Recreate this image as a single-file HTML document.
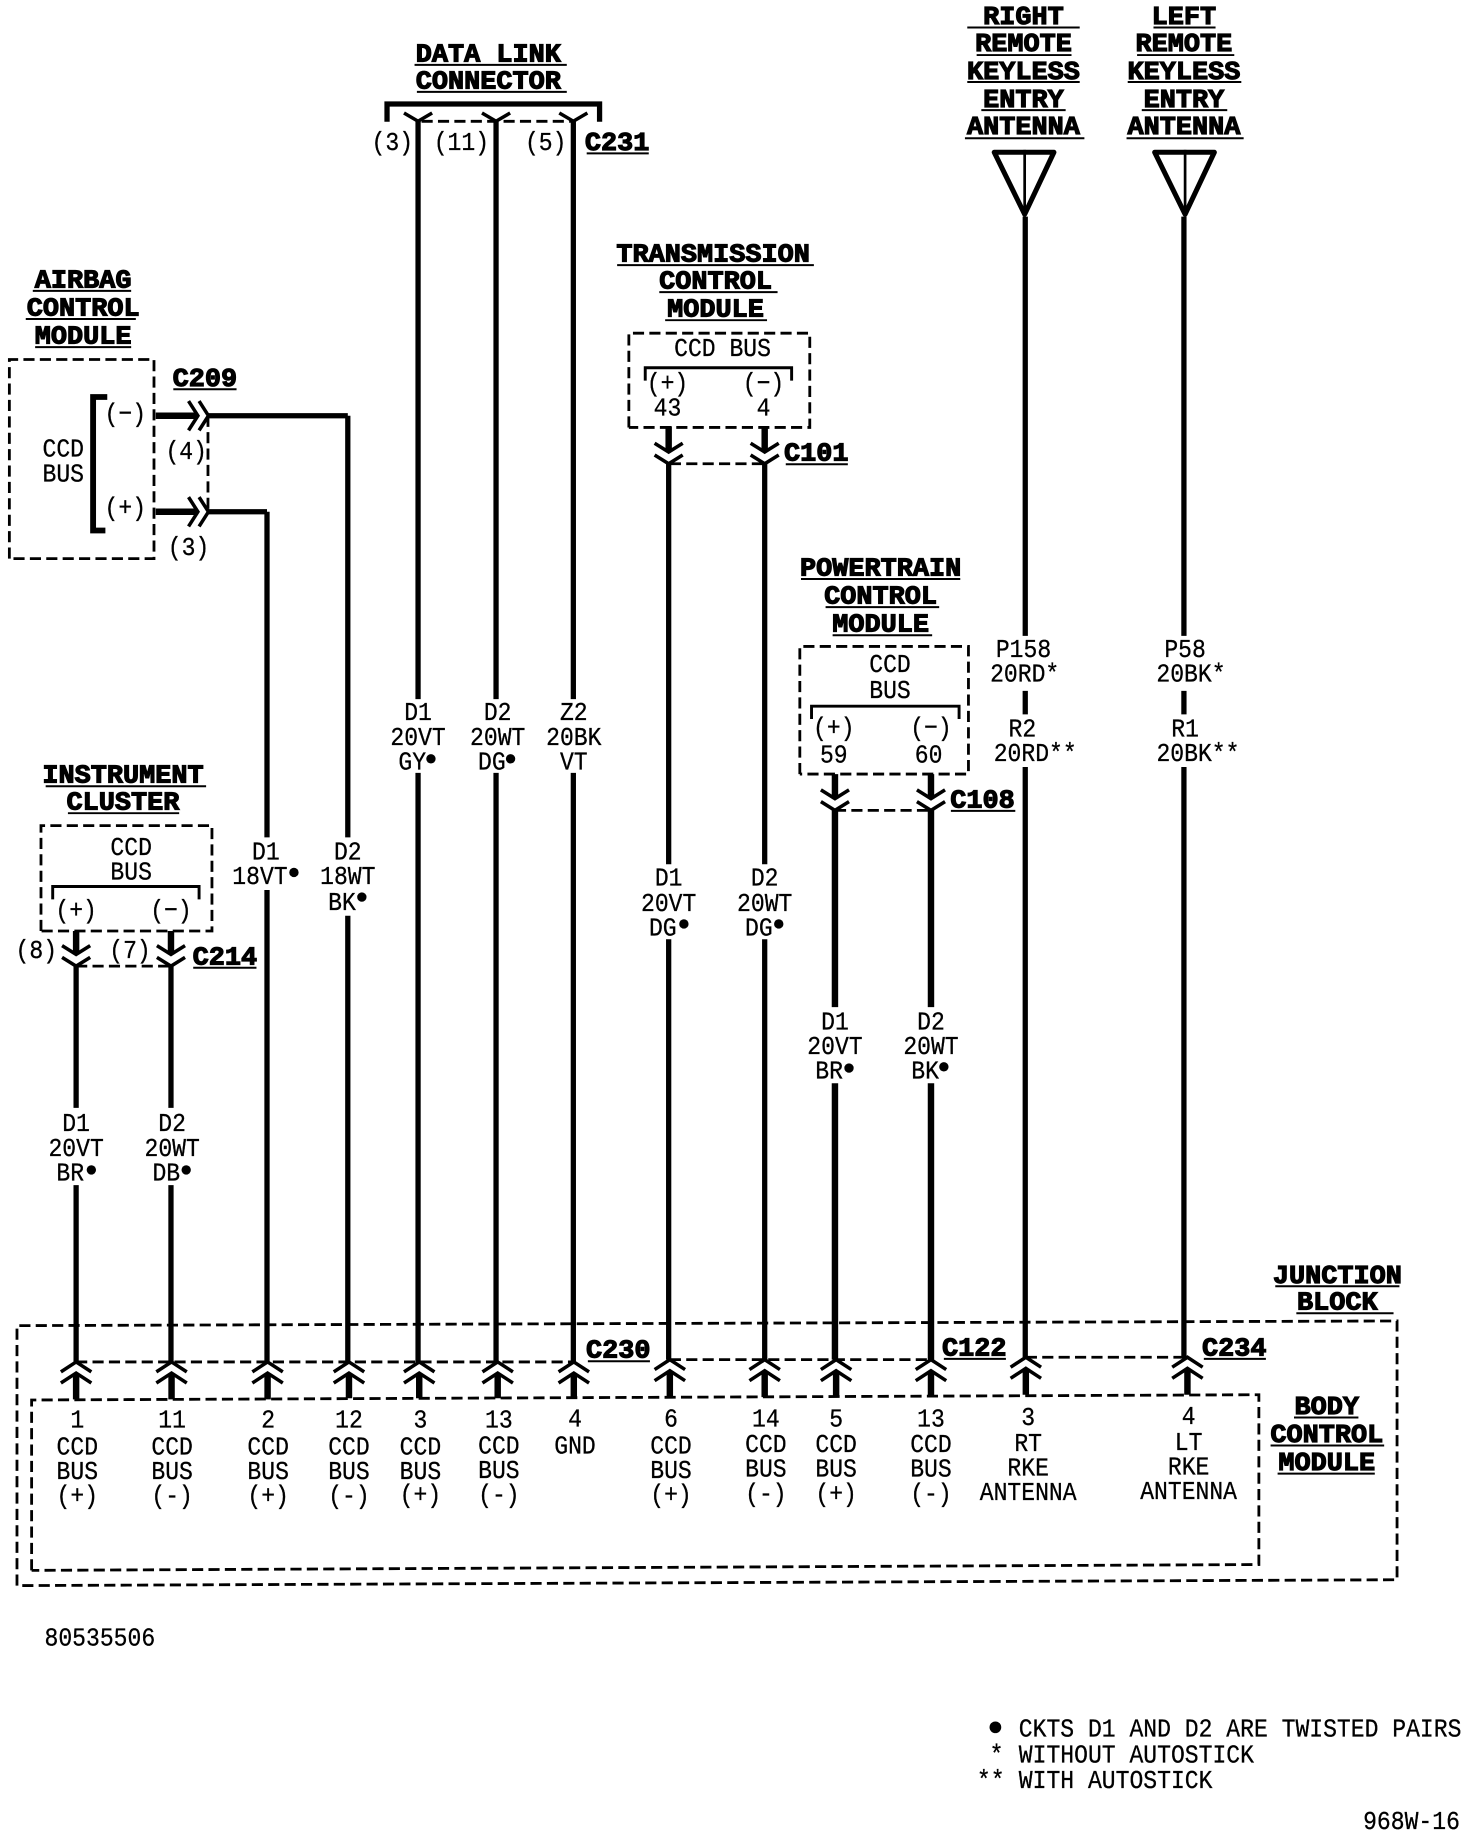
<!DOCTYPE html>
<html><head><meta charset="utf-8"><title>Wiring diagram</title>
<style>
html,body{margin:0;padding:0;background:#fff}
svg{display:block}
text{font-family:"Liberation Mono",monospace;font-size:22.5px;fill:#000;text-anchor:middle;stroke:#000;stroke-width:.25}
text.s{text-anchor:start}
.h text{font-weight:bold;stroke-width:1}
.w{stroke:#000;stroke-width:4.5;fill:none}
.c{stroke:#000;stroke-width:3;fill:none}
.d{stroke:#000;stroke-width:2.4;fill:none;stroke-dasharray:9.5 4.5}
.u{stroke:#000;stroke-width:1.7;fill:none}
.b{stroke:#000;stroke-width:2.5;fill:none}
</style></head><body>
<svg xmlns="http://www.w3.org/2000/svg" width="1472" height="1836" viewBox="0 0 1257 1567.8">
<defs>
<g id="up" class="c"><path d="M-13 8.5L0 0L13 8.5M-13 18L0 9.5L13 18"/></g>
<g id="dn" class="c"><path d="M-12 -7.5L0 0L12 -7.5M-12 -17.5L0 -10L12 -17.5"/></g>
<g id="rt" class="c"><path d="M-8 -12.5L0 0L-8 12.5M1 -12.5L9 0L1 12.5"/></g>
<g id="y" class="c"><path d="M-12 -7L0 0L12 -7"/></g>
</defs>

<!-- main wires -->
<g class="w">
<path d="M65 825V946M65 1012V1163"/>
<path d="M146 825V946M146 1012V1163"/>
<path d="M228 437V715M228 760V1163"/>
<path d="M297 355V715M297 782V1163"/>
<path d="M357 103V597M357 660V1163"/>
<path d="M423.6 103V597M423.6 660V1163"/>
<path d="M489.6 103V597M489.6 660V1163"/>
<path d="M571 396V738M571 802V1161"/>
<path d="M653 396V738M653 802V1161"/>
<path d="M713 692V860M713 925V1161" style="stroke-width:5.5"/>
<path d="M795 692V860M795 925V1161" style="stroke-width:5.5"/>
<path d="M875.5 185V543M875.5 590V610M875.5 655V1159"/>
<path d="M1011 185V543M1011 590V610M1011 655V1159"/>
<path d="M178 355H297M178 437H228"/>
<g style="stroke-width:5.5">
<path d="M571 364V386M653 364V386M713 661V682M795 661V682M65 795V815M146 795V815"/>
<path d="M133 355H169M133 437H169"/>
<path d="M65 1173V1195M146.500 1173V1195M228.500 1173V1195M298 1173V1194M358 1173V1194M425 1173V1194M490 1173V1193M572 1171V1193M653 1171V1193M714 1171V1192M795 1171V1192M876 1169V1191M1014 1169V1191"/>
</g>
<path d="M91.600 339H79.500V453H90" style="stroke-width:5"/>
<path d="M330.500 104V88.800H512V104" style="stroke-width:4.5"/>
</g>

<!-- thin brackets -->
<path class="b" d="M551 325V314H676V325M693 614V603H819V614M45 768V757H170V768"/>

<!-- dashed boxes and joins -->
<path class="d" d="M8 477V307H131.500V477H8"/>
<path class="d" d="M537 365V284.500H691.500V365H537"/>
<path class="d" d="M683 661V552H827V661H683"/>
<path class="d" d="M35 795V705H181V795H35"/>
<path class="d" d="M177.600 355V437"/>
<path class="d" d="M360 103.600H490"/>
<path class="d" d="M572 396H653"/>
<path class="d" d="M713 692H795"/>
<path class="d" d="M65 825H146"/>
<path class="d" d="M14.500 1354V1132L1193 1128V1349L14.500 1354"/>
<path class="d" d="M27 1341V1195.500L1075 1191V1336L27 1341"/>
<path class="d" d="M65 1163H490"/>
<path class="d" d="M572 1161H795"/>
<path class="d" d="M876 1159H1014"/>

<!-- connector symbols -->
<use href="#rt" x="169" y="355"/><use href="#rt" x="169" y="437"/>
<use href="#y" x="357" y="103.500"/><use href="#y" x="423.600" y="103.500"/><use href="#y" x="489.600" y="103.500"/>
<use href="#dn" x="571" y="396"/><use href="#dn" x="653" y="396"/>
<use href="#dn" x="713" y="692"/><use href="#dn" x="795" y="692"/>
<use href="#dn" x="65" y="825"/><use href="#dn" x="146" y="825"/>
<use href="#up" x="65" y="1163"/><use href="#up" x="146.500" y="1163"/><use href="#up" x="228.500" y="1163"/>
<use href="#up" x="298" y="1163"/><use href="#up" x="358" y="1163"/><use href="#up" x="425" y="1163"/>
<use href="#up" x="490" y="1163"/><use href="#up" x="572" y="1161"/><use href="#up" x="653" y="1161"/>
<use href="#up" x="714" y="1161"/><use href="#up" x="795" y="1161"/><use href="#up" x="876" y="1159"/>
<use href="#up" x="1014" y="1159"/>

<!-- antennas -->
<path class="w" d="M849 130H900L875 183Z" style="stroke-width:4.300;stroke-linejoin:round"/>
<path class="w" d="M875 128V185" style="stroke-width:2.300"/>
<path class="w" d="M986 130H1037L1012 183Z" style="stroke-width:4.300;stroke-linejoin:round"/>
<path class="w" d="M1012 128V185" style="stroke-width:2.300"/>

<!-- headings -->
<g class="h" transform="translate(0,-1.6)">
<text transform="matrix(1.02 0 0 1 874 22)">RIGHT</text>
<text transform="matrix(1.02 0 0 1 874 45)">REMOTE</text>
<text transform="matrix(1.02 0 0 1 874 69)">KEYLESS</text>
<text transform="matrix(1.02 0 0 1 874 93)">ENTRY</text>
<text transform="matrix(1.02 0 0 1 874 116)">ANTENNA</text>
<text transform="matrix(1.02 0 0 1 1011 22)">LEFT</text>
<text transform="matrix(1.02 0 0 1 1011 45)">REMOTE</text>
<text transform="matrix(1.02 0 0 1 1011 69)">KEYLESS</text>
<text transform="matrix(1.02 0 0 1 1011 93)">ENTRY</text>
<text transform="matrix(1.02 0 0 1 1011 116)">ANTENNA</text>
<text transform="matrix(1.02 0 0 1 417 54)">DATA  LINK</text>
<text transform="matrix(1.02 0 0 1 417 77)">CONNECTOR</text>
<text transform="matrix(1.02 0 0 1 527 129.500)">C231</text>
<text transform="matrix(1.02 0 0 1 71 247)">AIRBAG</text>
<text transform="matrix(1.02 0 0 1 71 271)">CONTROL</text>
<text transform="matrix(1.02 0 0 1 71 295)">MODULE</text>
<text transform="matrix(1.02 0 0 1 175 331)">C209</text>
<text transform="matrix(1.02 0 0 1 609 225)">TRANSMISSION</text>
<text transform="matrix(1.02 0 0 1 611 248)">CONTROL</text>
<text transform="matrix(1.02 0 0 1 611 272)">MODULE</text>
<text transform="matrix(1.02 0 0 1 697 395)">C101</text>
<text transform="matrix(1.02 0 0 1 752 493)">POWERTRAIN</text>
<text transform="matrix(1.02 0 0 1 752 517)">CONTROL</text>
<text transform="matrix(1.02 0 0 1 752 541)">MODULE</text>
<text transform="matrix(1.02 0 0 1 839 691)">C108</text>
<text transform="matrix(1.02 0 0 1 105 670)">INSTRUMENT</text>
<text transform="matrix(1.02 0 0 1 105 693)">CLUSTER</text>
<text transform="matrix(1.02 0 0 1 192 825)">C214</text>
<text transform="matrix(1.02 0 0 1 1142 1097)">JUNCTION</text>
<text transform="matrix(1.02 0 0 1 1142 1120)">BLOCK</text>
<text transform="matrix(1.02 0 0 1 528 1161)">C230</text>
<text transform="matrix(1.02 0 0 1 832 1159)">C122</text>
<text transform="matrix(1.02 0 0 1 1054 1159)">C234</text>
<text transform="matrix(1.02 0 0 1 1133 1209)">BODY</text>
<text transform="matrix(1.02 0 0 1 1133 1233)">CONTROL</text>
<text transform="matrix(1.02 0 0 1 1133 1257)">MODULE</text>
</g>

<!-- heading underlines -->
<path class="u" d="M826 23.500H922M834 47H915M826 70H922M838 94H910M824 118H926M985 23.500H1038M971 47H1054M963 70H1060M975 94H1048M962 118H1062M354 55.400H484M356 78.400H484M501 131H554M28 248.400H112M22 272.400H116M30 296.400H112M148 332.400H202M527 226.400H695M563 249.400H664M568 273.400H655M671 396.400H724M684 494.400H820M705 518.400H802M711 542.400H796M812 692.400H867M39 671.400H176M58 694.400H153M165 826.400H219M1089 1098.400H1195M1107 1121.400H1190M502 1162.400H555M806 1160.400H859M1028 1160.400H1081M1105 1210.400H1160M1085 1234.400H1182M1091 1258.400H1174"/>

<!-- labels -->
<g transform="translate(0,-2)">
<text transform="matrix(.875 0 0 1 335 130)">(3)</text>
<text transform="matrix(.875 0 0 1 394 130)">(11)</text>
<text transform="matrix(.875 0 0 1 466 130)">(5)</text>
<text transform="matrix(.875 0 0 1 54 392)">CCD</text>
<text transform="matrix(.875 0 0 1 54 413)">BUS</text>
<text transform="matrix(.875 0 0 1 107 362)">(−)</text>
<text transform="matrix(.875 0 0 1 107 442)">(+)</text>
<text transform="matrix(.875 0 0 1 159 394)">(4)</text>
<text transform="matrix(.875 0 0 1 161 476)">(3)</text>
<text transform="matrix(.875 0 0 1 617 306)">CCD BUS</text>
<text transform="matrix(.875 0 0 1 570 336)">(+)</text>
<text transform="matrix(.875 0 0 1 652 336)">(−)</text>
<text transform="matrix(.875 0 0 1 570 357)">43</text>
<text transform="matrix(.875 0 0 1 652 357)">4</text>
<text transform="matrix(.875 0 0 1 760 576)">CCD</text>
<text transform="matrix(.875 0 0 1 760 598)">BUS</text>
<text transform="matrix(.875 0 0 1 712 630)">(+)</text>
<text transform="matrix(.875 0 0 1 795 630)">(−)</text>
<text transform="matrix(.875 0 0 1 712 653)">59</text>
<text transform="matrix(.875 0 0 1 793 653)">60</text>
<text transform="matrix(.875 0 0 1 112 732)">CCD</text>
<text transform="matrix(.875 0 0 1 112 753)">BUS</text>
<text transform="matrix(.875 0 0 1 65 786)">(+)</text>
<text transform="matrix(.875 0 0 1 146 786)">(−)</text>
<text transform="matrix(.875 0 0 1 31 820)">(8)</text>
<text transform="matrix(.875 0 0 1 111 820)">(7)</text>

<text transform="matrix(.875 0 0 1 65 968)">D1</text><text transform="matrix(.875 0 0 1 65 989)">20VT</text><text transform="matrix(.875 0 0 1 60 1010)">BR</text>
<text transform="matrix(.875 0 0 1 147 968)">D2</text><text transform="matrix(.875 0 0 1 147 989)">20WT</text><text transform="matrix(.875 0 0 1 142 1010)">DB</text>
<text transform="matrix(.875 0 0 1 227 736)">D1</text><text transform="matrix(.875 0 0 1 222 757)">18VT</text>
<text transform="matrix(.875 0 0 1 297 736)">D2</text><text transform="matrix(.875 0 0 1 297 757)">18WT</text><text transform="matrix(.875 0 0 1 292 779)">BK</text>
<text transform="matrix(.875 0 0 1 357 617)">D1</text><text transform="matrix(.875 0 0 1 357 638)">20VT</text><text transform="matrix(.875 0 0 1 352 659)">GY</text>
<text transform="matrix(.875 0 0 1 425 617)">D2</text><text transform="matrix(.875 0 0 1 425 638)">20WT</text><text transform="matrix(.875 0 0 1 420 659)">DG</text>
<text transform="matrix(.875 0 0 1 490 617)">Z2</text><text transform="matrix(.875 0 0 1 490 638)">20BK</text><text transform="matrix(.875 0 0 1 490 659)">VT</text>
<text transform="matrix(.875 0 0 1 571 758)">D1</text><text transform="matrix(.875 0 0 1 571 780)">20VT</text><text transform="matrix(.875 0 0 1 566 801)">DG</text>
<text transform="matrix(.875 0 0 1 653 758)">D2</text><text transform="matrix(.875 0 0 1 653 780)">20WT</text><text transform="matrix(.875 0 0 1 648 801)">DG</text>
<text transform="matrix(.875 0 0 1 713 881)">D1</text><text transform="matrix(.875 0 0 1 713 902)">20VT</text><text transform="matrix(.875 0 0 1 708 923)">BR</text>
<text transform="matrix(.875 0 0 1 795 881)">D2</text><text transform="matrix(.875 0 0 1 795 902)">20WT</text><text transform="matrix(.875 0 0 1 790 923)">BK</text>
<text transform="matrix(.875 0 0 1 874 563)">P158</text><text transform="matrix(.875 0 0 1 875 584)">20RD*</text>
<text transform="matrix(.875 0 0 1 873 631)">R2</text><text transform="matrix(.875 0 0 1 884 652)">20RD**</text>
<text transform="matrix(.875 0 0 1 1012 563)">P58</text><text transform="matrix(.875 0 0 1 1017 584)">20BK*</text>
<text transform="matrix(.875 0 0 1 1012 631)">R1</text><text transform="matrix(.875 0 0 1 1023 652)">20BK**</text>

<text transform="matrix(.875 0 0 1 66 1221)">1</text><text transform="matrix(.875 0 0 1 66 1244)">CCD</text><text transform="matrix(.875 0 0 1 66 1265)">BUS</text><text transform="matrix(.875 0 0 1 66 1286)">(+)</text>
<text transform="matrix(.875 0 0 1 147 1221)">11</text><text transform="matrix(.875 0 0 1 147 1244)">CCD</text><text transform="matrix(.875 0 0 1 147 1265)">BUS</text><text transform="matrix(.875 0 0 1 147 1286)">(-)</text>
<text transform="matrix(.875 0 0 1 229 1221)">2</text><text transform="matrix(.875 0 0 1 229 1244)">CCD</text><text transform="matrix(.875 0 0 1 229 1265)">BUS</text><text transform="matrix(.875 0 0 1 229 1286)">(+)</text>
<text transform="matrix(.875 0 0 1 298 1221)">12</text><text transform="matrix(.875 0 0 1 298 1244)">CCD</text><text transform="matrix(.875 0 0 1 298 1265)">BUS</text><text transform="matrix(.875 0 0 1 298 1286)">(-)</text>
<text transform="matrix(.875 0 0 1 359 1221)">3</text><text transform="matrix(.875 0 0 1 359 1244)">CCD</text><text transform="matrix(.875 0 0 1 359 1265)">BUS</text><text transform="matrix(.875 0 0 1 359 1285)">(+)</text>
<text transform="matrix(.875 0 0 1 426 1221)">13</text><text transform="matrix(.875 0 0 1 426 1243)">CCD</text><text transform="matrix(.875 0 0 1 426 1264)">BUS</text><text transform="matrix(.875 0 0 1 426 1285)">(-)</text>
<text transform="matrix(.875 0 0 1 491 1220)">4</text><text transform="matrix(.875 0 0 1 491 1243)">GND</text>
<text transform="matrix(.875 0 0 1 573 1220)">6</text><text transform="matrix(.875 0 0 1 573 1243)">CCD</text><text transform="matrix(.875 0 0 1 573 1264)">BUS</text><text transform="matrix(.875 0 0 1 573 1285)">(+)</text>
<text transform="matrix(.875 0 0 1 654 1220)">14</text><text transform="matrix(.875 0 0 1 654 1242)">CCD</text><text transform="matrix(.875 0 0 1 654 1263)">BUS</text><text transform="matrix(.875 0 0 1 654 1284)">(-)</text>
<text transform="matrix(.875 0 0 1 714 1220)">5</text><text transform="matrix(.875 0 0 1 714 1242)">CCD</text><text transform="matrix(.875 0 0 1 714 1263)">BUS</text><text transform="matrix(.875 0 0 1 714 1284)">(+)</text>
<text transform="matrix(.875 0 0 1 795 1220)">13</text><text transform="matrix(.875 0 0 1 795 1242)">CCD</text><text transform="matrix(.875 0 0 1 795 1263)">BUS</text><text transform="matrix(.875 0 0 1 795 1284)">(-)</text>
<text transform="matrix(.875 0 0 1 878 1219)">3</text><text transform="matrix(.875 0 0 1 878 1241)">RT</text><text transform="matrix(.875 0 0 1 878 1262)">RKE</text><text transform="matrix(.875 0 0 1 878 1283)">ANTENNA</text>
<text transform="matrix(.875 0 0 1 1015 1218)">4</text><text transform="matrix(.875 0 0 1 1015 1240)">LT</text><text transform="matrix(.875 0 0 1 1015 1261)">RKE</text><text transform="matrix(.875 0 0 1 1015 1282)">ANTENNA</text>

<text class="s" transform="matrix(.875 0 0 1 38 1407)">80535506</text>
<text class="s" transform="matrix(.875 0 0 1 870 1485)">CKTS D1 AND D2 ARE TWISTED PAIRS</text>
<text class="s" transform="matrix(.875 0 0 1 870 1507)">WITHOUT AUTOSTICK</text>
<text class="s" transform="matrix(.875 0 0 1 870 1529)">WITH AUTOSTICK</text>
<text transform="matrix(.875 0 0 1 851 1507)">*</text>
<text transform="matrix(.875 0 0 1 846 1529)">**</text>
<text class="s" transform="matrix(.875 0 0 1 1164 1564)">968W-16</text>
</g>

<!-- twisted pair dots -->
<g fill="#000">
<circle cx="78" cy="999" r="4"/><circle cx="159" cy="999" r="4"/><circle cx="251" cy="745" r="4"/>
<circle cx="309" cy="766" r="4"/><circle cx="368" cy="648" r="4"/><circle cx="436" cy="648" r="4"/>
<circle cx="584" cy="789" r="4"/><circle cx="665" cy="789" r="4"/><circle cx="725" cy="912" r="4"/>
<circle cx="806" cy="911" r="4"/><circle cx="850" cy="1475" r="5"/>
</g>
</svg>
</body></html>
